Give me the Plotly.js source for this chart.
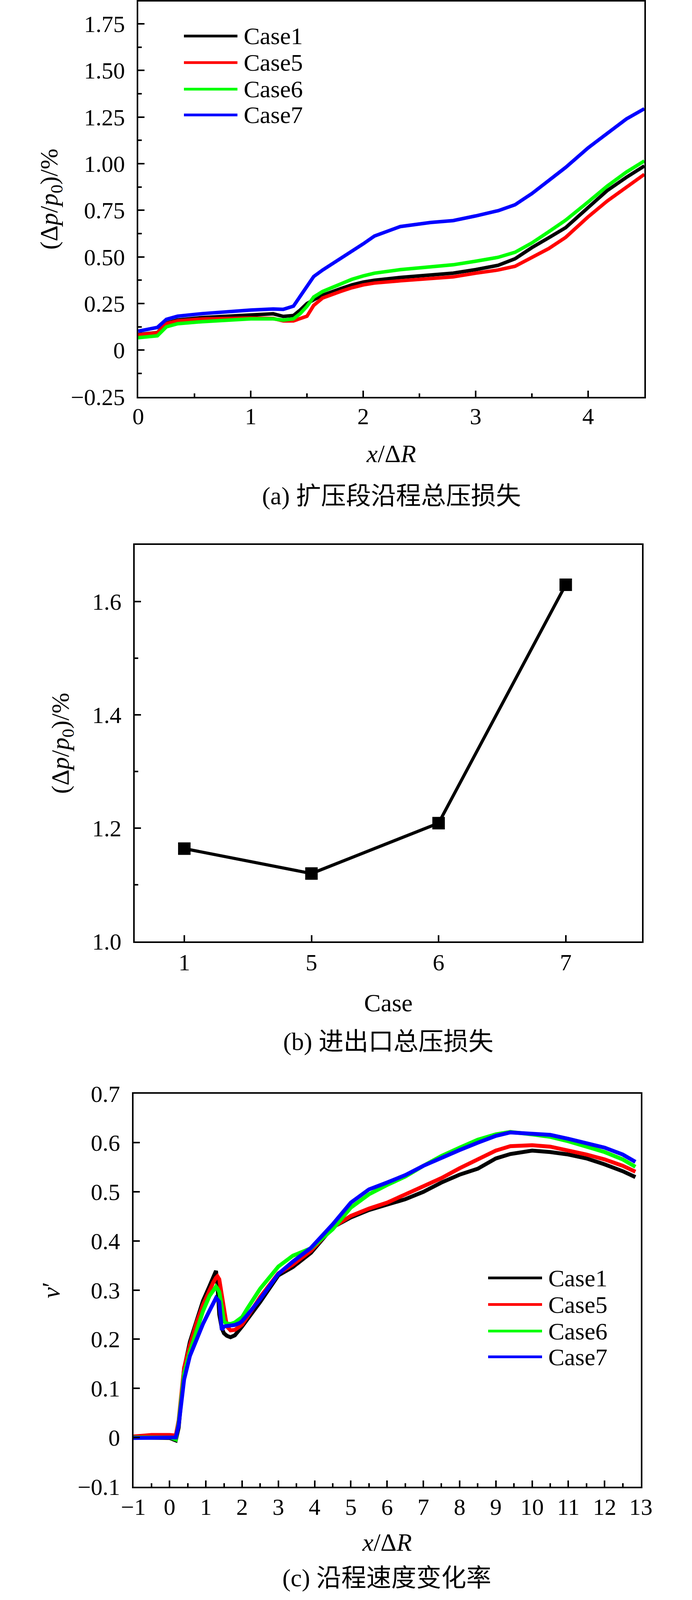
<!DOCTYPE html>
<html>
<head>
<meta charset="utf-8">
<script src="https://cdn.plot.ly/plotly-3.0.1.min.js"></script>
<style>html,body{margin:0;padding:0;background:#fff;overflow:hidden;}#chart{width:1772px;}</style>
</head>
<body>
<div id="chart"></div>
<script>
// ---------- Panel (a): pressure loss along diffuser ----------
const xA = [0, 0.17, 0.25, 0.35, 0.57, 0.8, 1.0, 1.2, 1.29, 1.38, 1.44, 1.5, 1.56, 1.64, 1.8, 1.9, 2.0, 2.1, 2.33, 2.6, 2.8, 3.0, 3.2, 3.35, 3.5, 3.65, 3.8, 4.0, 4.17, 4.34, 4.5];
const aCase1 = [0.084, 0.094, 0.145, 0.162, 0.175, 0.183, 0.189, 0.195, 0.181, 0.186, 0.215, 0.25, 0.27, 0.295, 0.33, 0.35, 0.365, 0.375, 0.39, 0.405, 0.413, 0.432, 0.455, 0.49, 0.55, 0.603, 0.657, 0.765, 0.856, 0.927, 0.988];
const aCase5 = [0.082, 0.093, 0.142, 0.157, 0.167, 0.17, 0.172, 0.17, 0.157, 0.157, 0.168, 0.182, 0.24, 0.28, 0.315, 0.335, 0.35, 0.36, 0.372, 0.385, 0.393, 0.413, 0.43, 0.45, 0.495, 0.545, 0.605, 0.715, 0.8, 0.875, 0.943];
const aCase6 = [0.067, 0.077, 0.125, 0.142, 0.153, 0.162, 0.168, 0.168, 0.161, 0.168, 0.196, 0.235, 0.285, 0.315, 0.355, 0.38, 0.398, 0.413, 0.432, 0.448, 0.458, 0.477, 0.498, 0.525, 0.575, 0.635, 0.697, 0.795, 0.88, 0.955, 1.015];
const aCase7 = [0.102, 0.122, 0.165, 0.182, 0.196, 0.207, 0.215, 0.221, 0.219, 0.236, 0.29, 0.345, 0.395, 0.43, 0.49, 0.53, 0.57, 0.612, 0.663, 0.685, 0.695, 0.72, 0.748, 0.78, 0.84, 0.91, 0.98, 1.085, 1.165, 1.24, 1.295];
const aYTickVals = [-0.25, 0, 0.25, 0.5, 0.75, 1.0, 1.25, 1.5, 1.75];
const aYTickText = ["\u22120.25", "0", "0.25", "0.50", "0.75", "1.00", "1.25", "1.50", "1.75"];
const aXTickVals = [0, 1, 2, 3, 4];

// ---------- Panel (b): inlet-outlet total pressure loss ----------
const bCases = ["1", "5", "6", "7"];
const bLoss = [1.164, 1.12, 1.209, 1.63];
const bYTickVals = [1.0, 1.2, 1.4, 1.6];
const bYTickText = ["1.0", "1.2", "1.4", "1.6"];

// ---------- Panel (c): velocity change rate ----------
const xC = [-1, -0.5, 0, 0.1, 0.17, 0.25, 0.4, 0.56, 0.74, 0.92, 1.1, 1.2, 1.28, 1.32, 1.37, 1.44, 1.5, 1.58, 1.68, 1.8, 1.93, 2.0, 2.14, 2.5, 3.0, 3.4, 3.9, 4.5, 5.0, 5.5, 6.0, 6.5, 7.0, 7.5, 8.0, 8.5, 9.0, 9.4, 10.0, 10.5, 11.0, 11.5, 12.0, 12.5, 12.85];
const cCase1 = [0, 0, -0.001, -0.004, -0.006, 0.02, 0.14, 0.195, 0.239, 0.278, 0.308, 0.325, 0.339, 0.31, 0.25, 0.222, 0.212, 0.207, 0.204, 0.208, 0.218, 0.226, 0.24, 0.276, 0.33, 0.347, 0.376, 0.428, 0.448, 0.463, 0.474, 0.485, 0.5, 0.519, 0.535, 0.547, 0.568, 0.577, 0.584, 0.581, 0.576, 0.568, 0.556, 0.542, 0.53];
const cCase5 = [0.002, 0.005, 0.005, 0.005, 0.004, 0.035, 0.142, 0.188, 0.233, 0.27, 0.3, 0.315, 0.325, 0.328, 0.322, 0.29, 0.251, 0.226, 0.218, 0.219, 0.226, 0.23, 0.245, 0.286, 0.334, 0.352, 0.38, 0.428, 0.451, 0.466, 0.478, 0.495, 0.51, 0.528, 0.548, 0.566, 0.584, 0.593, 0.595, 0.592, 0.585, 0.576, 0.566, 0.553, 0.541];
const cCase6 = [0, 0, 0, -0.002, -0.004, 0.03, 0.13, 0.175, 0.215, 0.257, 0.288, 0.298, 0.307, 0.303, 0.296, 0.266, 0.236, 0.232, 0.231, 0.234, 0.24, 0.245, 0.262, 0.303, 0.348, 0.37, 0.385, 0.424, 0.468, 0.495, 0.514, 0.531, 0.553, 0.573, 0.59, 0.606, 0.617, 0.622, 0.617, 0.612, 0.603, 0.592, 0.581, 0.566, 0.551];
const cCase7 = [-0.001, -0.001, 0, 0, 0, 0.025, 0.118, 0.166, 0.2, 0.231, 0.258, 0.272, 0.284, 0.281, 0.276, 0.219, 0.226, 0.227, 0.228, 0.229, 0.233, 0.237, 0.249, 0.282, 0.333, 0.358, 0.386, 0.434, 0.478, 0.505, 0.519, 0.534, 0.553, 0.57, 0.585, 0.6, 0.614, 0.621, 0.619, 0.616, 0.608, 0.6, 0.59, 0.576, 0.561];
const cYTickVals = [-0.1, 0, 0.1, 0.2, 0.3, 0.4, 0.5, 0.6, 0.7];
const cYTickText = ["\u22120.1", "0", "0.1", "0.2", "0.3", "0.4", "0.5", "0.6", "0.7"];
const cXTickVals = [-1, 0, 1, 2, 3, 4, 5, 6, 7, 8, 9, 10, 11, 12, 13];
const cXTickText = ["\u22121", "0", "1", "2", "3", "4", "5", "6", "7", "8", "9", "10", "11", "12", "13"];

const seriesNames = ["Case1", "Case5", "Case6", "Case7"];
const seriesColors = ["#000000", "#ff0000", "#00ff00", "#0000ff"];

// ---------- layout helpers ----------
// Design coordinates are those of the 1772x4218 reference; the figure fills the real viewport.
const REF_W = 1772, REF_H = 4218;
const W = 1772;
const H = Math.min(REF_H, window.innerHeight || REF_H);
const ky = H / REF_H;
document.getElementById("chart").style.height = H + "px";
const px = v => v / REF_W;
const py = v => 1 - v / REF_H;
const FONT = "Liberation Serif, Times New Roman, Noto Sans CJK SC, serif";
const tickFont = {family: FONT, size: 60, color: "#000"};
const titleFont = {family: FONT, size: 64, color: "#000"};

function baseAxis(extra) {
  return Object.assign({
    showline: true, mirror: true, linewidth: 4, linecolor: "#000",
    ticks: "inside", ticklen: 16, tickwidth: 4, tickcolor: "#000",
    showgrid: false, zeroline: false, tickfont: tickFont,
    tickmode: "array", fixedrange: true
  }, extra);
}

const traces = [];
const aSeries = [aCase1, aCase5, aCase6, aCase7];
aSeries.forEach((ys, i) => traces.push({
  type: "scatter", mode: "lines", x: xA, y: ys, name: seriesNames[i],
  line: {color: seriesColors[i], width: 9}, xaxis: "x", yaxis: "y", showlegend: false
}));
traces.push({
  type: "scatter", mode: "lines+markers", x: bCases, y: bLoss, name: "Loss",
  line: {color: "#000", width: 8}, marker: {symbol: "square", size: 32, color: "#000"},
  xaxis: "x2", yaxis: "y2", showlegend: false
});
const cSeries = [cCase1, cCase5, cCase6, cCase7];
cSeries.forEach((ys, i) => traces.push({
  type: "scatter", mode: "lines", x: xC, y: ys, name: seriesNames[i],
  line: {color: seriesColors[i], width: 10}, xaxis: "x3", yaxis: "y3", showlegend: false
}));

// legends drawn as shapes + annotations
const shapes = [];
const annotations = [];
function addLegend(x0, x1, xt, rows) {
  rows.forEach((yy, i) => {
    shapes.push({type: "line", xref: "paper", yref: "paper", x0: px(x0), x1: px(x1), y0: py(yy), y1: py(yy),
      line: {color: seriesColors[i], width: 7}});
    annotations.push({xref: "paper", yref: "paper", x: px(xt), y: py(yy), xanchor: "left", yanchor: "middle",
      text: seriesNames[i], showarrow: false, font: {family: FONT, size: 62, color: "#000"}});
  });
}
addLegend(471, 608, 622, [95, 165, 235, 303]);
addLegend(1250, 1388, 1402, [3369, 3439, 3509, 3577]);

function caption(text, xc, yc) {
  annotations.push({xref: "paper", yref: "paper", x: px(xc), y: py(yc), xanchor: "center", yanchor: "middle",
    text: text, showarrow: false, borderpad: 0, font: {family: FONT, size: 64, color: "#000"}});
}
caption("(a) 扩压段沿程总压损失", 1002, 1307);
caption("(b) 进出口总压损失", 994, 2746);
caption("(c) 沿程速度变化率", 991, 4160);

const layout = {
  width: W, height: H, margin: {l: 0, r: 0, t: 0, b: 0},
  paper_bgcolor: "#fff", plot_bgcolor: "#fff", showlegend: false,
  xaxis: baseAxis({domain: [px(354), px(1650)], anchor: "y", range: [0, 4.5],
    tickvals: aXTickVals, ticktext: aXTickVals.map(String), ticklabelstandoff: -6,
    minor: {tickvals: [0.5, 1.5, 2.5, 3.5], ticks: "inside", ticklen: 9, tickwidth: 4, tickcolor: "#000"},
    title: {text: "<i>x</i>/Δ<i>R</i>", font: titleFont, standoff: Math.round(42 * ky)}}),
  yaxis: baseAxis({domain: [py(1046), py(4)], anchor: "x", range: [-0.25, 1.87],
    tickvals: aYTickVals, ticktext: aYTickText, ticklabelstandoff: 18,
    minor: {tickvals: [-0.125, 0.125, 0.375, 0.625, 0.875, 1.125, 1.375, 1.625], ticks: "inside", ticklen: 9, tickwidth: 4, tickcolor: "#000"},
    title: {text: "(Δ<i>p</i>/<i>p</i><sub>0</sub>)/%", font: titleFont, standoff: 14}}),
  xaxis2: baseAxis({domain: [px(345), px(1644)], anchor: "y2", type: "category", range: [-0.39, 3.6],
    tickvals: bCases, ticktext: bCases, ticklabelstandoff: -2,
    title: {text: "Case", font: titleFont, standoff: Math.round(50 * ky)}}),
  yaxis2: baseAxis({domain: [py(2482), py(1437)], anchor: "x2", range: [1.0, 1.70],
    tickvals: bYTickVals, ticktext: bYTickText, ticklabelstandoff: 18,
    minor: {tickvals: [1.1, 1.3, 1.5], ticks: "inside", ticklen: 9, tickwidth: 4, tickcolor: "#000"},
    title: {text: "(Δ<i>p</i>/<i>p</i><sub>0</sub>)/%", font: titleFont, standoff: 40}}),
  xaxis3: baseAxis({domain: [px(341.5), px(1641)], anchor: "y3", range: [-1, 13],
    tickvals: cXTickVals, ticktext: cXTickText, ticklabelstandoff: -4,
    minor: {dtick: 0.5, tick0: -0.5, ticks: "inside", ticklen: 9, tickwidth: 4, tickcolor: "#000"},
    title: {text: "<i>x</i>/Δ<i>R</i>", font: titleFont, standoff: Math.round(38 * ky)}}),
  yaxis3: baseAxis({domain: [py(3919), py(2883)], anchor: "x3", range: [-0.1, 0.7],
    tickvals: cYTickVals, ticktext: cYTickText, ticklabelstandoff: 18,
    title: {text: "<i>v</i>′", font: titleFont, standoff: 26}}),
  shapes: shapes,
  annotations: annotations
};

Plotly.newPlot("chart", traces, layout, {staticPlot: true, displayModeBar: false});
</script>
</body>
</html>
